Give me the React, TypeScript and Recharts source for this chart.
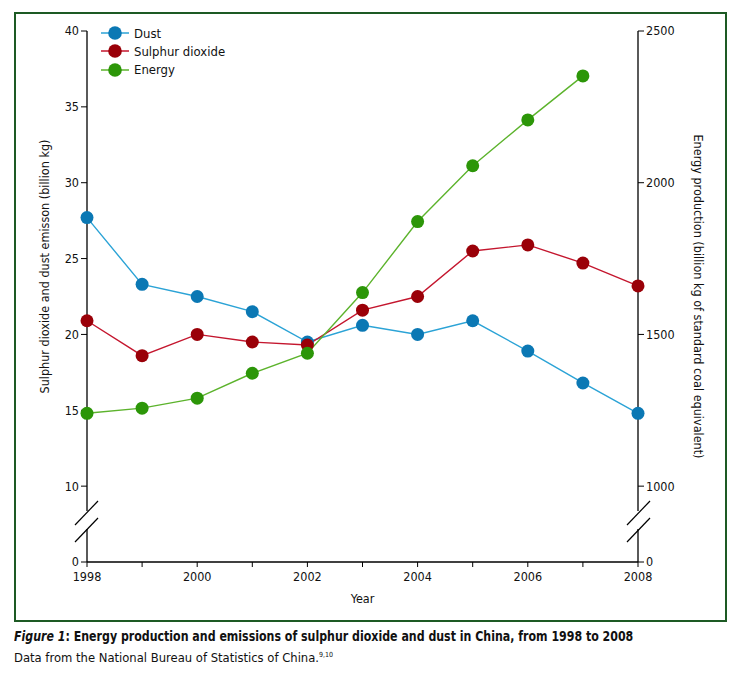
import { LineChart, Line, XAxis, YAxis } from 'recharts';

const years = [1998, 1999, 2000, 2001, 2002, 2003, 2004, 2005, 2006, 2007, 2008];
const dust = [27.7, 23.3, 22.5, 21.5, 19.5, 20.6, 20.0, 20.9, 18.9, 16.8, 14.8];
const sulphurDioxide = [20.9, 18.6, 20.0, 19.5, 19.3, 21.6, 22.5, 25.5, 25.9, 24.7, 23.2];
const energy = [1240, 1257, 1290, 1372, 1438, 1638, 1872, 2056, 2207, 2352, null];

// the axes are broken: 0 is drawn one step below the first real tick
const leftTicks = [5, 10, 15, 20, 25, 30, 35, 40];
const rightTicks = [750, 1000, 1500, 2000, 2500];
const xTicks = years;

const FONT = "'DejaVu Sans Condensed', 'Liberation Sans', sans-serif";

const series = [
  { key: 'dust', name: 'Dust', line: '#2ba3d6', dot: '#0b78b4', axis: 'left' },
  { key: 'so2', name: 'Sulphur dioxide', line: '#c4162e', dot: '#9a0008', axis: 'left' },
  { key: 'energy', name: 'Energy', line: '#5cb32c', dot: '#2c9608', axis: 'right' },
];

const data = years.map((year, i) => ({
  year,
  dust: dust[i],
  so2: sulphurDioxide[i],
  energy: energy[i],
}));

function LegendBox() {
  return (
    <div style={{ position: 'absolute', left: 100, top: 24, fontFamily: FONT, fontSize: 13, color: '#111' }}>
      {series.map((s) => (
        <div key={s.key} style={{ display: 'flex', alignItems: 'center', height: 18.3 }}>
          <svg width={30} height={16} style={{ marginRight: 4 }}>
            <line x1={1} y1={8} x2={29} y2={8} stroke={s.line} strokeWidth={1.5} />
            <circle cx={15} cy={8} r={6.8} fill={s.dot} />
          </svg>
          <span>{s.name}</span>
        </div>
      ))}
    </div>
  );
}

function AxisBreak({ x }: { x: number }) {
  return (
    <g>
      <line x1={x} y1={511} x2={x} y2={529} stroke="#fff" strokeWidth={4} />
      <line x1={x - 11} y1={525} x2={x + 12} y2={501} stroke="#000" strokeWidth={1.2} />
      <line x1={x - 11} y1={542} x2={x + 12} y2={518} stroke="#000" strokeWidth={1.2} />
    </g>
  );
}

export default function App() {
  const tickStyle = { fontFamily: FONT, fontSize: 12.5, fill: '#111' };
  const labelStyle = { fontFamily: FONT, fontSize: 12.5, fill: '#111', textAnchor: 'middle' };
  return (
    <div style={{ position: 'absolute', left: 0, top: 0, width: 737, height: 678, background: '#fff' }}>
      <div
        style={{
          position: 'absolute',
          left: 14,
          top: 12,
          width: 709,
          height: 606,
          border: '2px solid #1d5a24',
        }}
      />
      <div style={{ position: 'absolute', left: 0, top: 0 }}>
        <LineChart width={737} height={620} data={data} margin={{ top: 31, right: 49, bottom: 16, left: 37 }}>
          <XAxis
            dataKey="year"
            type="number"
            domain={[1998, 2008]}
            ticks={xTicks}
            interval={0}
            tickFormatter={(v: number) => (v % 2 === 0 ? String(v) : '')}
            tick={tickStyle}
            tickLine={{ stroke: '#000' }}
            axisLine={{ stroke: '#000', strokeWidth: 1.3 }}
            tickSize={5}
            tickMargin={5}
            height={42}
            label={{ value: 'Year', position: 'insideBottom', offset: 1, style: labelStyle }}
          />
          <YAxis
            yAxisId="left"
            domain={[5, 40]}
            ticks={leftTicks}
            interval={0}
            tickFormatter={(v: number) => (v === 5 ? '0' : String(v))}
            tick={tickStyle}
            tickLine={{ stroke: '#000' }}
            axisLine={{ stroke: '#000', strokeWidth: 1.3 }}
            tickSize={6}
            width={50}
            label={{
              value: 'Sulphur dioxide and dust emisson (billion kg)',
              angle: -90,
              position: 'insideLeft',
              offset: 8,
              dy: -30,
              style: labelStyle,
            }}
          />
          <YAxis
            yAxisId="right"
            orientation="right"
            domain={[750, 2500]}
            ticks={rightTicks}
            interval={0}
            tickFormatter={(v: number) => (v === 750 ? '0' : String(v))}
            tick={tickStyle}
            tickLine={{ stroke: '#000' }}
            axisLine={{ stroke: '#000', strokeWidth: 1.3 }}
            tickSize={6}
            width={50}
            label={{
              value: 'Energy production (billion kg of standard coal equivalent)',
              angle: 90,
              position: 'insideRight',
              offset: -10,
              style: labelStyle,
            }}
          />
          {series.map((s) => (
            <Line
              key={s.key}
              yAxisId={s.axis}
              dataKey={s.key}
              name={s.name}
              stroke={s.line}
              strokeWidth={1.4}
              dot={{ r: 6.5, fill: s.dot, stroke: s.dot, strokeWidth: 0 }}
              activeDot={false}
              connectNulls={false}
              isAnimationActive={false}
            />
          ))}
        </LineChart>
      </div>
      <svg width={737} height={620} style={{ position: 'absolute', left: 0, top: 0, pointerEvents: 'none' }}>
        <AxisBreak x={86} />
        <AxisBreak x={638} />
      </svg>
      <LegendBox />
      <div
        style={{
          position: 'absolute',
          left: 14,
          top: 627,
          fontFamily: FONT,
          color: '#111',
          whiteSpace: 'nowrap',
        }}
      >
        <div
          style={{
            fontSize: 14,
            fontWeight: 'bold',
            lineHeight: '19px',
            transform: 'scaleX(0.875)',
            transformOrigin: 'left center',
          }}
        >
          <i>Figure 1</i>: Energy production and emissions of sulphur dioxide and dust in China, from 1998 to 2008
        </div>
        <div style={{ fontSize: 12.9, lineHeight: '18px' }}>
          Data from the National Bureau of Statistics of China.<sup style={{ fontSize: 7 }}>9,10</sup>
        </div>
      </div>
    </div>
  );
}
